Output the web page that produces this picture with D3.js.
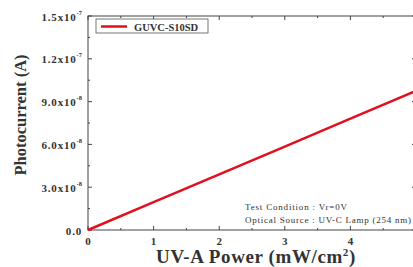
<!DOCTYPE html>
<html>
<head>
<meta charset="utf-8">
<script src="https://cdn.jsdelivr.net/npm/d3@7"></script>
<style>
  body { margin: 0; background: #fff; }
  svg text { font-family: "Liberation Serif", "DejaVu Serif", serif; font-weight: bold; fill: #333; }
</style>
</head>
<body>
<div id="chart"></div>
<script>
// data
var power = [0, 1, 2, 3, 4, 5];
var current = [0, 1.95e-8, 3.9e-8, 5.85e-8, 7.8e-8, 9.75e-8];
var xTicks = [0, 1, 2, 3, 4, 5];
var yTicks = [0, 3e-8, 6e-8, 9e-8, 1.2e-7, 1.5e-7];
var yLabels = [["0.0", ""], ["3.0x10", "-8"], ["6.0x10", "-8"], ["9.0x10", "-8"], ["1.2x10", "-7"], ["1.5x10", "-7"]];
var seriesName = "GUVC-S10SD";
var notes = ["Test Condition : Vr=0V", "Optical Source : UV-C Lamp (254 nm)"];

var width = 413, height = 267;
var svg = d3.select("#chart").append("svg")
  .attr("width", width).attr("height", height);

var x = d3.scaleLinear().domain([0, 5]).range([88, 416]);
var y = d3.scaleLinear().domain([0, 1.5e-7]).range([230, 16]);

// frame
svg.append("rect")
  .attr("x", x(0)).attr("y", y(1.5e-7))
  .attr("width", x(5) - x(0)).attr("height", y(0) - y(1.5e-7))
  .attr("fill", "none").attr("stroke", "#444").attr("stroke-width", 1);

// ticks, pointing inward on all sides
var xMinor = d3.range(0, 5.01, 0.5);
var yMinor = d3.range(0, 1.51e-7, 1.5e-8);
xMinor.forEach(function(v, i) {
  var len = (i % 2 == 0) ? 4 : 2;
  svg.append("line").attr("x1", x(v)).attr("x2", x(v)).attr("y1", y(0)).attr("y2", y(0) - len).attr("stroke", "#444");
  svg.append("line").attr("x1", x(v)).attr("x2", x(v)).attr("y1", y(1.5e-7)).attr("y2", y(1.5e-7) + len).attr("stroke", "#444");
});
yMinor.forEach(function(v, i) {
  var len = (i % 2 == 0) ? 4 : 2;
  svg.append("line").attr("x1", x(0)).attr("x2", x(0) + len).attr("y1", y(v)).attr("y2", y(v)).attr("stroke", "#444");
  svg.append("line").attr("x1", x(5)).attr("x2", x(5) - len).attr("y1", y(v)).attr("y2", y(v)).attr("stroke", "#444");
});

// x tick labels
svg.selectAll(".xl").data(xTicks).enter().append("text")
  .attr("x", function(d) { return x(d); })
  .attr("y", 245)
  .attr("text-anchor", "middle")
  .attr("font-size", 11)
  .text(function(d) { return d; });

// y tick labels with superscript exponent
yTicks.forEach(function(v, i) {
  var t = svg.append("text")
    .attr("x", 82).attr("y", y(v) + 4.5)
    .attr("text-anchor", "end")
    .attr("font-size", 11)
    .style("letter-spacing", "0.8px");
  t.append("tspan").text(yLabels[i][0]);
  if (yLabels[i][1]) {
    t.append("tspan").attr("dy", -6).attr("font-size", 6.5).style("letter-spacing", "0px").text(yLabels[i][1]);
  }
});

// axis titles
svg.append("text")
  .attr("transform", "translate(26,115) rotate(-90)")
  .attr("text-anchor", "middle")
  .attr("font-size", 16.5)
  .text("Photocurrent (A)");

var xt = svg.append("text")
  .attr("x", 256).attr("y", 263)
  .attr("text-anchor", "middle")
  .attr("font-size", 19)
  .style("letter-spacing", "0.6px");
xt.append("tspan").text("UV-A Power (mW/cm");
xt.append("tspan").attr("dy", -7).attr("font-size", 11).text("2");
xt.append("tspan").attr("dy", 7).text(")");

// data line
var line = d3.line()
  .x(function(d, i) { return x(power[i]); })
  .y(function(d) { return y(d); });
svg.append("path")
  .datum(current)
  .attr("d", line)
  .attr("fill", "none")
  .attr("stroke", "#e0101e")
  .attr("stroke-width", 2.5);

// legend
svg.append("rect")
  .attr("x", 96).attr("y", 19).attr("width", 112).attr("height", 14)
  .attr("fill", "#fff").attr("stroke", "#555").attr("stroke-width", 0.8);
svg.append("line")
  .attr("x1", 101).attr("x2", 127).attr("y1", 26.5).attr("y2", 26.5)
  .attr("stroke", "#e0101e").attr("stroke-width", 2.5);
svg.append("text")
  .attr("x", 134).attr("y", 30.5)
  .attr("font-size", 10.5)
  .text(seriesName);

// test condition notes
var noteWidths = [102, 166];
notes.forEach(function(n, i) {
  svg.append("text")
    .attr("x", 245).attr("y", 210 + i * 13)
    .attr("font-size", 9)
    .attr("textLength", noteWidths[i])
    .attr("lengthAdjust", "spacing")
    .style("font-weight", "normal")
    .attr("fill", "#555")
    .text(n);
});
</script>
</body>
</html>
